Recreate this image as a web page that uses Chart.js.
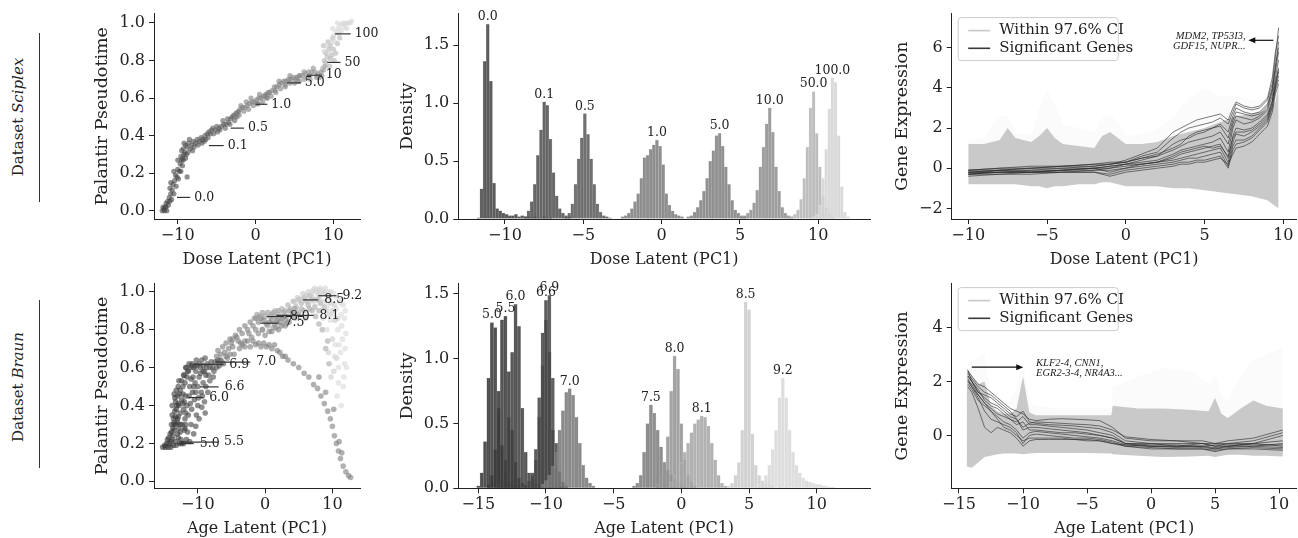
<!DOCTYPE html>
<html>
<head>
<meta charset="utf-8">
<script src="https://cdn.jsdelivr.net/npm/chart.js@4.4.1/dist/chart.umd.min.js"></script>
<style>
  body { margin: 0; background: #fff; }
  #fig { position: relative; width: 1298px; height: 538px; overflow: hidden; }
  canvas { position: absolute; }
  .rowlab { position: absolute; font-family: 'DejaVu Serif', serif; font-size: 15px; color: #222;
            transform: translate(-50%, -50%) rotate(-90deg); white-space: nowrap; }
  .rowline { position: absolute; width: 1px; background: #333; }
</style>
</head>
<body>
<div id="fig">
  <div class="rowlab" style="left:18px; top:117px">Dataset <i>Sciplex</i></div>
  <div class="rowline" style="left:39px; top:33px; height:169px"></div>
  <div class="rowlab" style="left:18px; top:387px">Dataset <i>Braun</i></div>
  <div class="rowline" style="left:39px; top:300px; height:168px"></div>

  <canvas id="scatterTop" width="305" height="269" style="left:85px; top:0px"></canvas>
  <canvas id="scatterBot" width="305" height="268" style="left:85px; top:270px"></canvas>
  <canvas id="histTop" width="485" height="269" style="left:390px; top:0px"></canvas>
  <canvas id="histBot" width="485" height="268" style="left:390px; top:270px"></canvas>
  <canvas id="geneTop" width="418" height="269" style="left:880px; top:0px"></canvas>
  <canvas id="geneBot" width="418" height="268" style="left:880px; top:270px"></canvas>
</div>

<script>
// ---------------- data: Sciplex (dose) ----------------
const doseHistLabels = ['0.0', '0.1', '0.5', '1.0', '5.0', '10.0', '50.0', '100.0'];
const doseMarkLabels = ['0.0', '0.1', '0.5', '1.0', '5.0', '10', '50', '100'];
const doseMarkFrom = [-10.1, -6.0, -3.2, 0.0, 4.0, 6.6, 9.2, 10.2];
const doseMarkTo   = [-8.4, -4.1, -1.5, 1.5, 5.8, 8.5, 10.9, 12.2];
const doseMarkY    = [0.071, 0.347, 0.44, 0.567, 0.681, 0.722, 0.79, 0.942];

// scatter points per dose group [latent PC1, pseudotime]
const sciplexPoints = [
  [[-12.0,0.0],[-11.8,0.01],[-11.6,0.02],[-11.5,0.04],[-11.3,0.05],[-11.2,0.03],[-11.1,0.07],[-10.9,0.09],[-11.0,0.12],[-10.7,0.11],[-10.6,0.14],[-10.4,0.16],[-10.3,0.19],[-10.1,0.18],[-10.0,0.22],[-9.8,0.21],[-9.7,0.25],[-9.5,0.27],[-9.4,0.24],[-9.2,0.3],[-11.4,0.0],[-10.8,0.06],[-11.7,0.0],[-8.8,0.18],
   [-11.9,0.02],[-11.5,0.02],[-11.0,0.05],[-10.5,0.09],[-10.9,0.15],[-10.2,0.13],[-10.5,0.21],[-9.9,0.17],[-9.6,0.21],[-10.0,0.27],[-9.3,0.27],[-9.0,0.28]],
  [[-9.6,0.29],[-9.3,0.33],[-9.1,0.31],[-9.0,0.35],[-8.8,0.34],[-8.6,0.36],[-8.4,0.33],[-8.2,0.35],[-8.0,0.37],[-7.7,0.36],[-7.5,0.38],[-7.2,0.37],[-7.0,0.39],[-6.8,0.38],[-6.5,0.4],[-6.2,0.41],[-9.4,0.28],[-8.9,0.3],
   [-9.2,0.36],[-8.7,0.31],[-8.1,0.32],[-7.9,0.34],[-7.4,0.35],[-6.9,0.36],[-6.6,0.37],[-6.4,0.38],[-9.5,0.32],[-8.5,0.38]],
  [[-6.0,0.42],[-5.7,0.43],[-5.5,0.44],[-5.2,0.43],[-5.0,0.45],[-4.7,0.44],[-4.4,0.45],[-4.1,0.46],[-3.8,0.46],[-3.5,0.47],[-3.2,0.49],[-3.0,0.5],[-2.8,0.51],[-2.5,0.52],[-2.2,0.53],[-5.8,0.41],[-4.9,0.42],
   [-6.1,0.39],[-5.4,0.41],[-4.6,0.43],[-3.9,0.44],[-3.3,0.46],[-2.7,0.48],[-2.4,0.5],[-4.2,0.48],[-3.6,0.49]],
  [[-2.6,0.5],[-2.3,0.52],[-2.0,0.54],[-1.7,0.55],[-1.4,0.55],[-1.1,0.56],[-0.8,0.57],[-0.5,0.58],[-0.2,0.58],[0.1,0.59],[0.4,0.6],[0.7,0.6],[1.0,0.61],[1.3,0.62],[1.6,0.63],[-1.9,0.56],[0.2,0.57],
   [-2.1,0.51],[-1.5,0.53],[-0.9,0.54],[-0.3,0.56],[0.3,0.57],[0.9,0.58],[1.5,0.6],[-1.2,0.58],[-0.6,0.6],[0.5,0.62]],
  [[1.2,0.61],[1.5,0.62],[1.8,0.63],[2.1,0.64],[2.4,0.66],[2.7,0.66],[3.0,0.67],[3.3,0.68],[3.6,0.69],[3.9,0.69],[4.2,0.7],[4.5,0.7],[4.8,0.71],[5.1,0.7],[5.4,0.71],[5.7,0.72],[3.8,0.67],[2.5,0.64],
   [1.4,0.6],[2.0,0.61],[2.6,0.63],[3.2,0.65],[3.8,0.66],[4.4,0.68],[5.0,0.68],[5.6,0.69],[3.0,0.69],[4.4,0.72]],
  [[5.2,0.71],[5.6,0.72],[6.0,0.72],[6.4,0.73],[6.8,0.74],[7.2,0.74],[7.6,0.74],[8.0,0.73],[8.4,0.74],[8.7,0.75],[7.0,0.72],[7.9,0.72],[8.5,0.72],[8.9,0.77],[6.6,0.71],
   [5.4,0.69],[6.2,0.7],[7.0,0.7],[7.8,0.71],[8.2,0.71],[6.2,0.74],[7.4,0.76]],
  [[8.6,0.76],[8.8,0.8],[9.0,0.79],[9.2,0.82],[9.0,0.84],[9.4,0.86],[9.6,0.88],[9.3,0.9],[9.8,0.83],[10.0,0.86],[10.3,0.84],[10.1,0.8],[9.6,0.81],[10.5,0.89],[9.9,0.92],[8.7,0.88],[10.8,0.92],[9.5,0.77]],
  [[9.4,0.84],[9.7,0.9],[10.0,0.93],[10.3,0.95],[10.6,0.97],[10.9,0.99],[11.2,1.0],[11.5,1.0],[11.8,1.0],[12.1,1.0],[10.7,0.94],[11.0,0.96],[11.4,0.98],[9.9,0.97],[10.2,0.9],[11.7,0.97],[12.3,1.01],[10.5,1.0],[9.1,0.88],[8.8,0.85]]
];

// histogram: first bin centre and bin heights (bin width 0.2)
const doseBinStart = [-11.7, -8.7, -6.1, -2.5, 1.7, 5.1, 8.1, 9.7];
const doseBinHeights = [
  [0.01,0.26,1.36,1.68,1.19,0.31,0.09,0.07,0.05,0.04,0.03,0.03,0.04,0.02,0.03,0.02,0.02,0.01,0.02,0.01,0.01,0.02,0.01,0.01],
  [0.02,0.07,0.15,0.3,0.55,0.77,1.01,0.98,0.69,0.4,0.2,0.09,0.05,0.03,0.02],
  [0.02,0.05,0.13,0.3,0.52,0.7,0.91,0.73,0.52,0.3,0.13,0.06,0.03,0.02,0.01],
  [0.02,0.03,0.05,0.09,0.15,0.22,0.35,0.53,0.55,0.6,0.64,0.68,0.63,0.47,0.22,0.12,0.07,0.04,0.03,0.02],
  [0.02,0.03,0.06,0.1,0.16,0.24,0.35,0.5,0.59,0.72,0.74,0.63,0.45,0.3,0.16,0.08,0.05,0.03,0.02],
  [0.02,0.03,0.05,0.08,0.14,0.25,0.45,0.62,0.82,0.96,0.75,0.45,0.24,0.1,0.05,0.03,0.02],
  [0.01,0.02,0.04,0.08,0.17,0.35,0.62,0.96,1.1,0.74,0.45,0.2,0.1,0.05,0.02],
  [0.02,0.04,0.12,0.35,0.6,0.95,1.22,1.18,0.72,0.28,0.06,0.02]
];
const doseShades = [68, 80, 90, 125, 128, 142, 180, 212];

// ---------------- data: Braun (age) ----------------
const ageHistLabels = ['5.0', '5.5', '6.0', '6.6', '6.9', '7.0', '7.5', '8.0', '8.1', '8.5', '9.2'];
const ageMarkFrom = [-12.9, -12.5, -11.4, -9.7, -10.6, -7.4, -0.7, 0.25, 1.7, 5.6, 7.9];
const ageMarkTo   = [-10.6, -7.0, -9.2, -6.9, -6.2, -2.2, 2.0, 2.8, 7.2, 7.9, 10.6];
const ageMarkY    = [0.199, 0.207, 0.442, 0.498, 0.617, 0.629, 0.834, 0.869, 0.875, 0.957, 0.979];

const braunPoints = [
  [[-15.2,0.18],[-14.8,0.18],[-14.4,0.18],[-14.0,0.18],[-13.6,0.19],[-14.5,0.22],[-14.1,0.25],[-13.8,0.22],[-13.5,0.27],[-13.9,0.3],[-13.3,0.21],[-13.6,0.33],[-13.2,0.3],[-13.0,0.25],[-13.4,0.37],[-12.9,0.34],[-12.7,0.2],[-13.1,0.4],[-14.2,0.2],[-12.8,0.28],
   [-14.9,0.19],[-14.6,0.2],[-14.3,0.23],[-13.9,0.26],[-13.7,0.28],[-13.5,0.31],[-13.3,0.34],[-13.8,0.35],[-13.2,0.38],[-12.9,0.41],[-13.4,0.44],[-13.0,0.31],[-12.6,0.3],[-12.4,0.2]],
  [[-14.0,0.21],[-13.7,0.24],[-13.2,0.19],[-12.9,0.23],[-12.6,0.26],[-13.5,0.3],[-13.0,0.33],[-12.6,0.36],[-12.3,0.3],[-12.8,0.4],[-12.4,0.43],[-13.3,0.42],[-12.1,0.38],[-12.5,0.22],[-12.0,0.27],[-11.9,0.33],[-12.2,0.46],[-13.0,0.45],
   [-13.8,0.4],[-13.5,0.46],[-13.2,0.48],[-12.9,0.5],[-12.7,0.46],[-12.2,0.41],[-11.8,0.36],[-11.7,0.22],[-12.1,0.2],[-11.9,0.28]],
  [[-12.6,0.48],[-12.2,0.5],[-11.8,0.45],[-11.6,0.4],[-11.4,0.35],[-11.8,0.3],[-11.5,0.26],[-12.0,0.42],[-11.3,0.45],[-11.9,0.52],[-11.1,0.41],[-11.6,0.55],[-11.2,0.5],[-10.8,0.47],[-10.9,0.38],[-11.0,0.3],[-10.5,0.43],[-10.2,0.35],[-10.6,0.25],
   [-12.4,0.53],[-12.8,0.53],[-12.1,0.56],[-11.7,0.6],[-11.4,0.58],[-11.0,0.54],[-10.6,0.5],[-10.3,0.47],[-10.0,0.4],[-9.8,0.33],[-10.3,0.29],[-11.2,0.21]],
  [[-12.0,0.56],[-11.5,0.58],[-11.0,0.6],[-10.7,0.55],[-10.4,0.52],[-10.0,0.5],[-10.3,0.58],[-9.8,0.55],[-9.5,0.47],[-9.9,0.44],[-9.2,0.52],[-9.6,0.6],[-10.8,0.62],[-9.0,0.42],[-8.8,0.5],[-9.4,0.39],
   [-11.8,0.6],[-11.3,0.62],[-10.6,0.6],[-10.1,0.61],[-9.6,0.57],[-9.2,0.58],[-8.8,0.56],[-8.5,0.47],[-8.9,0.36],[-9.3,0.45]],
  [[-11.0,0.61],[-10.4,0.61],[-9.8,0.62],[-9.2,0.61],[-8.6,0.62],[-8.0,0.63],[-9.0,0.58],[-8.4,0.56],[-8.7,0.6],[-7.8,0.6],[-7.4,0.63],[-7.0,0.64],[-7.6,0.58],[-8.2,0.53],[-6.8,0.61],
   [-10.2,0.64],[-9.4,0.64],[-8.9,0.65],[-8.2,0.6],[-7.7,0.55],[-7.2,0.6],[-6.6,0.64],[-6.2,0.62]],
  [[-7.2,0.66],[-6.6,0.67],[-6.0,0.68],[-5.4,0.7],[-4.8,0.71],[-6.4,0.63],[-5.6,0.65],[-4.6,0.67],[-3.8,0.7],[-3.0,0.71],[-2.2,0.71],[-1.4,0.72],[-0.6,0.71],[0.2,0.71],[1.0,0.7],[1.8,0.69],[2.6,0.66],[3.4,0.64],[4.2,0.62],[-4.0,0.74],[-5.0,0.73],
   [-7.0,0.69],[-6.3,0.71],[-5.8,0.73],[-5.2,0.75],[-4.4,0.77],[-3.4,0.72],[-2.6,0.74],[-1.8,0.74],[-1.0,0.73],[-0.2,0.73],[0.6,0.72],[1.4,0.72],[-6.8,0.62],[-5.8,0.66],[-5.2,0.67],[2.2,0.68],[3.0,0.66]],
  [[-4.2,0.76],[-3.4,0.78],[-2.6,0.8],[-1.8,0.82],[-1.0,0.84],[-0.2,0.85],[0.6,0.84],[1.4,0.83],[2.2,0.84],[-3.0,0.74],[-2.0,0.76],[-1.0,0.78],[0.0,0.77],[1.0,0.79],[2.0,0.8],[-4.8,0.75],[-3.6,0.73],[3.0,0.82],
   [-3.8,0.8],[-3.0,0.82],[-2.2,0.84],[-1.4,0.86],[-0.6,0.86],[0.2,0.83],[1.0,0.85],[1.8,0.85],[2.6,0.86],[-2.4,0.78],[-1.4,0.8],[-0.4,0.8],[0.6,0.79],[1.6,0.81],[2.4,0.82],[3.4,0.84],
   [5.0,0.6],[5.8,0.57],[6.5,0.55],[7.2,0.51],[7.8,0.49],[8.3,0.45],[8.8,0.41],[9.3,0.37],[9.7,0.33],[10.0,0.29],[10.3,0.24],[10.6,0.2],[10.9,0.16],[11.2,0.12],[11.6,0.08],[12.0,0.05],[12.4,0.03],[12.7,0.02],[9.0,0.47],[8.0,0.55],[10.2,0.38],[11.0,0.21],[11.4,0.15]],
  [[-1.6,0.86],[-0.8,0.87],[0.0,0.87],[0.8,0.87],[1.6,0.87],[2.4,0.86],[3.2,0.87],[4.0,0.89],[0.4,0.82],[1.2,0.81],[2.8,0.83],[3.6,0.84],[4.4,0.86],[-0.4,0.8],
   [-1.2,0.88],[-0.4,0.89],[0.4,0.89],[1.2,0.89],[2.0,0.9],[2.8,0.89],[3.6,0.9],[4.4,0.91],[1.8,0.84],[3.0,0.85],[4.8,0.88]],
  [[1.0,0.88],[2.0,0.88],[3.0,0.9],[3.8,0.91],[4.6,0.92],[5.4,0.94],[6.2,0.95],[7.0,0.96],[4.2,0.88],[5.0,0.89],[5.8,0.9],[6.6,0.91],[7.4,0.92],[8.2,0.94],[6.0,0.86],[7.5,0.87],[8.5,0.8],[9.0,0.7],[9.5,0.62],
   [1.5,0.9],[2.5,0.91],[3.4,0.93],[4.2,0.95],[5.0,0.96],[5.8,0.97],[6.6,0.98],[7.8,0.96],[5.4,0.91],[6.4,0.93],[7.0,0.9],[8.0,0.9],[8.8,0.92],[8.0,0.83],[9.3,0.74]],
  [[4.5,0.94],[5.3,0.96],[6.1,0.98],[6.9,0.99],[7.7,1.0],[8.5,0.99],[9.3,0.98],[6.5,0.94],[7.3,0.95],[8.1,0.96],[8.9,0.95],[9.7,0.94],[10.3,0.93],[8.3,0.9],[9.6,0.88],[10.4,0.85],[10.0,0.75],[9.8,0.55],[10.6,0.65],
   [4.8,0.97],[5.6,0.99],[6.4,1.0],[7.2,1.01],[8.0,1.01],[8.8,1.0],[9.6,0.97],[7.0,0.97],[7.9,0.98],[9.1,0.9],[10.0,0.9],[10.8,0.86],[9.4,0.68],[10.2,0.58]],
  [[7.0,1.0],[7.8,1.01],[8.6,1.01],[9.4,1.0],[10.2,0.99],[11.0,0.96],[11.6,0.93],[10.6,0.91],[11.3,0.88],[11.8,0.86],[9.2,0.92],[10.0,0.88],[10.8,0.8],[11.5,0.75],[11.2,0.68],[10.9,0.6],[11.8,0.62],[10.4,0.72],[11.6,0.5],[10.7,0.45],[9.2,0.8],[8.6,0.86],[11.9,0.7],
   [7.4,1.02],[8.2,1.02],[9.0,1.02],[9.8,1.0],[10.6,0.97],[11.2,0.94],[11.9,0.9],[11.4,0.82],[12.0,0.78],[11.0,0.72],[10.3,0.66],[11.7,0.55],[11.3,0.4],[10.9,0.52],[12.1,0.6],[9.7,0.85]]
];

// histogram: first bin centre and bin heights (bin width 0.25)
const ageBinStart = [-15.0, -14.25, -13.5, -11.5, -11.25, -10.25, -3.5, -1.75, -0.75, 3.5, 5.5];
const ageBinHeights = [
  [0.02,0.12,0.36,0.85,1.28,1.24,0.75,0.33,0.12,0.05,0.03,0.02,0.01],
  [0.03,0.1,0.3,0.62,1.3,1.33,0.9,0.45,0.2,0.08,0.04,0.02],
  [0.03,0.08,0.22,0.55,1.05,1.42,1.25,0.62,0.28,0.12,0.08,0.05,0.03],
  [0.03,0.06,0.12,0.3,0.7,1.2,1.45,1.05,0.45,0.15,0.05,0.02],
  [0.04,0.1,0.22,0.55,0.95,1.3,1.49,0.85,0.35,0.13,0.05,0.02],
  [0.03,0.06,0.1,0.17,0.28,0.45,0.6,0.74,0.77,0.72,0.55,0.35,0.18,0.08,0.04,0.02],
  [0.02,0.04,0.1,0.28,0.5,0.645,0.58,0.45,0.32,0.2,0.14,0.1,0.07,0.05,0.03,0.02],
  [0.03,0.08,0.2,0.4,0.75,1.02,0.92,0.5,0.22,0.1,0.05,0.02],
  [0.05,0.1,0.15,0.2,0.28,0.35,0.43,0.5,0.53,0.56,0.55,0.48,0.35,0.22,0.1,0.04,0.02],
  [0.02,0.04,0.1,0.2,0.45,1.44,1.38,0.42,0.18,0.1,0.06,0.04,0.03,0.02],
  [0.02,0.03,0.05,0.1,0.18,0.3,0.45,0.7,0.85,0.7,0.45,0.28,0.18,0.12,0.08,0.06,0.05,0.04,0.03,0.03,0.02,0.02,0.01,0.01]
];
const ageShades = [55, 58, 64, 68, 72, 120, 125, 148, 166, 202, 216];

// ---------------- data: gene expression ----------------
const legendLabels = ['Within 97.6% CI', 'Significant Genes'];

const bandX1 = [-10,-9,-8,-7.5,-7,-6,-5.5,-5,-4.5,-4,-3,-2,-1.5,-1,-0.5,0,1,2,3,4,5,6,7,8,9,9.5,9.7];
const bandUp1 = [1.2,1.2,1.4,2.0,1.5,1.3,1.6,2.0,1.5,1.2,1.1,1.0,1.6,1.8,1.5,1.2,1.2,1.3,1.6,1.8,2.0,2.3,2.6,2.7,2.9,3.3,4.2];
const bandLo1 = [-0.8,-0.8,-0.8,-0.8,-0.8,-0.9,-0.9,-1.0,-0.9,-0.9,-0.8,-0.8,-0.7,-0.7,-0.8,-0.9,-0.9,-0.9,-1.0,-1.0,-1.1,-1.2,-1.3,-1.4,-1.6,-1.9,-2.0];
const bandFaint1 = [1.4,1.5,2.6,2.6,1.8,1.6,3.0,3.9,3.2,2.2,2.0,1.8,2.5,2.7,2.2,1.6,1.7,1.9,2.5,3.5,4.0,3.6,3.6,3.4,3.4,4.0,4.8];

const geneX1 = [-10,-8,-6,-4,-2,-1,0,1,2,3,3.5,4,4.5,5,5.5,6,6.5,6.8,7,7.5,8,8.5,9,9.3,9.5,9.7];
const genesDose = [
  [-0.2,-0.1,-0.1,0.0,0.1,0.2,0.3,0.6,0.8,1.5,1.8,2.0,2.1,2.2,2.3,2.5,2.2,2.8,3.2,3.0,2.9,3.0,3.4,4.2,5.5,7.0],
  [-0.3,-0.2,-0.2,-0.1,0.0,0.1,0.2,0.4,0.6,1.2,1.4,1.5,1.7,1.8,2.0,2.2,1.8,2.6,3.0,2.8,2.7,2.8,3.2,4.0,5.0,6.3],
  [-0.1,0.0,0.0,0.1,0.2,0.2,0.3,0.5,0.6,0.9,1.1,1.3,1.4,1.5,1.6,1.8,1.2,2.2,2.6,2.5,2.4,2.6,3.0,3.8,4.8,5.8],
  [-0.2,-0.2,-0.1,-0.1,0.0,0.0,0.2,0.3,0.4,0.7,0.9,1.0,1.1,1.2,1.3,1.5,0.8,2.0,2.4,2.2,2.3,2.5,2.9,3.6,4.5,5.4],
  [-0.3,-0.3,-0.2,-0.2,-0.1,0.0,0.1,0.2,0.3,0.5,0.7,0.8,0.9,1.0,1.1,1.2,0.5,1.6,2.0,1.9,2.0,2.3,2.7,3.4,4.3,5.0],
  [-0.1,-0.1,0.0,0.0,0.0,0.1,0.2,0.2,0.3,0.4,0.5,0.6,0.7,0.8,0.9,1.0,0.3,1.3,1.7,1.6,1.8,2.1,2.5,3.3,4.1,4.8],
  [-0.2,-0.2,-0.2,-0.1,-0.1,-0.1,0.0,0.1,0.2,0.3,0.4,0.5,0.5,0.6,0.7,0.8,0.1,1.1,1.4,1.4,1.6,2.0,2.4,3.1,4.0,4.6],
  [-0.3,-0.2,-0.2,-0.2,-0.2,-0.3,-0.1,0.0,0.1,0.2,0.3,0.3,0.4,0.4,0.5,0.6,0.0,0.9,1.2,1.3,1.5,1.9,2.3,3.0,3.9,4.4],
  [-0.2,-0.1,0.0,0.1,0.1,0.2,0.4,0.7,1.0,1.8,2.0,2.2,2.4,2.5,2.6,2.7,2.4,3.0,3.3,3.1,3.0,3.1,3.5,4.5,5.8,6.6],
  [-0.4,-0.3,-0.3,-0.2,-0.2,-0.4,-0.2,-0.1,0.0,0.1,0.2,0.2,0.3,0.3,0.4,0.5,0.2,0.7,1.0,1.1,1.3,1.7,2.1,2.8,3.7,4.2],
  [-0.1,0.0,0.1,0.1,0.2,0.3,0.3,0.5,0.7,1.0,1.2,1.6,1.8,1.9,2.0,2.1,1.5,2.4,2.8,2.7,2.6,2.7,3.1,3.9,5.1,6.0],
  [-0.3,-0.1,-0.2,-0.1,0.0,-0.2,0.0,0.2,0.3,0.6,0.8,0.9,1.0,1.1,1.0,1.1,0.6,1.5,1.8,1.8,1.9,2.2,2.6,3.3,4.2,4.9]
];
const doseArrow = [9.37, 6.37, 7.78, 6.37];
const doseGeneText = ['MDM2, TP53I3,', 'GDF15, NUPR...'];
const doseGeneTextPos = [7.6, 6.58, 6.05];

const bandX2 = [-14.4,-14,-13.5,-13,-12.5,-12,-11.5,-11,-10.5,-10,-9.5,-9,-7,-5,-3.1,-3,-1,1,3,4.5,5,5.5,6,7,8,9,10.3];
const bandUp2 = [2.5,2.2,1.9,2.0,1.1,0.9,0.8,0.8,1.0,2.2,0.85,0.75,0.75,0.75,0.75,1.1,1.0,1.0,0.95,0.9,1.4,0.8,0.65,1.0,1.3,1.1,1.0];
const bandLo2 = [-1.15,-1.2,-1.0,-0.8,-0.75,-0.7,-0.67,-0.67,-0.67,-0.7,-0.67,-0.65,-0.65,-0.65,-0.67,-0.7,-0.75,-0.8,-0.78,-0.75,-0.8,-0.75,-0.72,-0.72,-0.75,-0.75,-0.78];
const bandFaint2 = [2.6,2.8,2.9,3.0,1.5,1.3,1.2,1.3,1.8,2.7,1.3,1.1,1.0,1.0,1.0,1.8,2.2,2.5,2.4,1.9,2.3,1.5,1.3,2.2,2.8,3.0,3.3];

const geneX2 = [-14.3,-14,-13.5,-13,-12.5,-12,-11.5,-11,-10.5,-10,-9.5,-9,-8,-7,-6,-5,-4,-3,-2,0,2,4,5,6,8,10.3];
const genesAge = [
  [2.4,2.2,1.9,1.8,1.6,1.4,1.2,1.0,0.9,0.8,0.6,0.55,0.6,0.62,0.6,0.58,0.55,0.3,-0.1,-0.2,-0.2,-0.3,-0.3,-0.3,-0.2,0.1],
  [2.2,2.0,1.6,1.5,1.4,1.2,1.0,0.8,0.7,0.9,0.5,0.45,0.4,0.38,0.35,0.3,0.25,0.1,-0.2,-0.3,-0.3,-0.3,-0.4,-0.3,-0.3,0.0],
  [2.0,1.9,1.5,1.2,1.0,0.8,0.7,0.6,0.5,0.7,0.4,0.4,0.35,0.3,0.25,0.2,0.1,0.0,-0.3,-0.3,-0.4,-0.3,-0.4,-0.4,-0.3,-0.2],
  [2.3,2.1,1.8,1.6,1.5,1.3,1.1,0.9,0.6,0.2,0.3,0.3,0.25,0.2,0.15,0.1,0.0,-0.1,-0.3,-0.4,-0.4,-0.4,-0.5,-0.4,-0.4,-0.3],
  [1.9,1.7,1.3,1.1,0.9,0.7,0.5,0.4,0.2,-0.1,0.1,0.15,0.1,0.05,0.0,-0.05,-0.1,-0.2,-0.35,-0.4,-0.4,-0.45,-0.5,-0.45,-0.4,-0.45],
  [2.1,1.8,1.4,0.9,0.6,0.5,0.4,0.3,0.1,-0.3,0.0,0.05,0.0,-0.05,-0.1,-0.1,-0.15,-0.25,-0.4,-0.45,-0.5,-0.5,-0.6,-0.5,-0.45,-0.5],
  [2.4,2.0,1.7,1.3,1.1,1.0,0.8,0.6,0.4,0.5,0.2,0.2,0.15,0.1,0.1,0.05,0.0,-0.1,-0.3,-0.35,-0.35,-0.4,-0.35,-0.35,-0.35,-0.35],
  [1.8,1.6,1.0,0.3,0.1,0.3,0.2,0.1,-0.1,-0.4,-0.2,-0.15,-0.15,-0.15,-0.15,-0.2,-0.2,-0.3,-0.4,-0.5,-0.5,-0.5,-0.55,-0.5,-0.5,-0.55],
  [2.2,2.0,1.6,1.4,1.2,1.1,0.9,0.7,0.6,0.3,0.45,0.5,0.48,0.45,0.42,0.4,0.35,0.2,-0.05,-0.15,-0.2,-0.2,-0.3,-0.2,-0.1,0.2],
  [2.0,1.8,1.5,1.2,0.9,0.6,0.3,0.2,0.0,-0.2,-0.1,-0.1,-0.1,-0.1,-0.15,-0.15,-0.2,-0.3,-0.35,-0.4,-0.45,-0.4,-0.45,-0.4,-0.3,-0.4]
];
const ageArrow = [-14.0, 2.53, -9.98, 2.53];
const ageGeneText = ['KLF2-4, CNN1,', 'EGR2-3-4, NR4A3...'];
const ageGeneTextPos = [-8.98, 2.69, 2.29];

// ---------------- helpers ----------------
Chart.defaults.font.family = "'DejaVu Serif', serif";
Chart.defaults.font.size = 16;
Chart.defaults.color = '#222';
Chart.defaults.animation = false;
Chart.defaults.plugins.legend.display = false;
Chart.defaults.plugins.tooltip.enabled = false;

const gray = (c, a) => `rgba(${c},${c},${c},${a})`;
const fmt = dec => v => Number(v).toFixed(dec).replace('-', '\u2212');
const toXY = (xs, ys) => xs.map((x, i) => ({ x: x, y: ys[i] }));

function axes(o) {
  return {
    x: {
      type: 'linear', min: o.xMin, max: o.xMax, offset: false,
      afterBuildTicks: s => { s.ticks = o.xTicks.map(v => ({ value: v })); },
      afterFit: s => { s.height = o.xH; },
      ticks: { callback: fmt(o.xDec), padding: 2, maxRotation: 0, autoSkip: false },
      grid: { drawOnChartArea: false, offset: false, tickLength: 5, color: '#222', tickColor: '#222' },
      border: { color: '#222', width: 1 },
      title: { display: true, text: o.xTitle, padding: { top: 0, bottom: 0 } }
    },
    y: {
      type: 'linear', min: o.yMin, max: o.yMax,
      afterBuildTicks: s => { s.ticks = o.yTicks.map(v => ({ value: v })); },
      afterFit: s => { s.width = o.yW; },
      ticks: { callback: fmt(o.yDec), padding: 4, autoSkip: false },
      grid: { drawOnChartArea: false, tickLength: 5, color: '#222', tickColor: '#222' },
      border: { color: '#222', width: 1 },
      title: { display: true, text: o.yTitle, font: { size: 17.5 }, padding: { top: o.yPad, bottom: 0 } }
    }
  };
}

function markPlugin(labels, from, to, ys, gap) {
  return {
    id: 'marks',
    afterDatasetsDraw(chart) {
      const { ctx, scales: { x, y } } = chart;
      ctx.save();
      ctx.strokeStyle = '#333'; ctx.lineWidth = 1.2;
      ctx.fillStyle = '#222'; ctx.font = "12.5px 'DejaVu Serif'"; ctx.textBaseline = 'middle';
      labels.forEach((t, i) => {
        const py = y.getPixelForValue(ys[i]);
        const x1 = x.getPixelForValue(to[i]);
        ctx.beginPath(); ctx.moveTo(x.getPixelForValue(from[i]), py); ctx.lineTo(x1, py); ctx.stroke();
        ctx.fillText(t, x1 + gap, py);
      });
      ctx.restore();
    }
  };
}

function peakPlugin(labels) {
  return {
    id: 'peaks',
    afterDatasetsDraw(chart) {
      const { ctx, scales: { x, y } } = chart;
      ctx.save();
      ctx.fillStyle = '#222'; ctx.font = "12.5px 'DejaVu Serif'";
      ctx.textAlign = 'center'; ctx.textBaseline = 'bottom';
      chart.data.datasets.forEach((ds, i) => {
        let best = ds.data[0];
        ds.data.forEach(p => { if (p.y > best.y) best = p; });
        ctx.fillText(labels[i], x.getPixelForValue(best.x), y.getPixelForValue(best.y) - 1);
      });
      ctx.restore();
    }
  };
}

function legendPlugin() {
  return {
    id: 'ciLegend',
    afterDraw(chart) {
      const { ctx, chartArea: a } = chart;
      const bx = a.left + 6.5, by = a.top + 4, bw = 160, bh = 43;
      ctx.save();
      ctx.fillStyle = 'rgba(255,255,255,0.8)'; ctx.strokeStyle = '#cccccc'; ctx.lineWidth = 1;
      ctx.beginPath();
      if (ctx.roundRect) ctx.roundRect(bx, by, bw, bh, 3); else ctx.rect(bx, by, bw, bh);
      ctx.fill(); ctx.stroke();
      const cols = ['#c8c8c8', '#3a3a3a'];
      legendLabels.forEach((t, i) => {
        const yy = by + 13 + i * 17.7;
        ctx.strokeStyle = cols[i]; ctx.lineWidth = 1.6;
        ctx.beginPath(); ctx.moveTo(bx + 10, yy); ctx.lineTo(bx + 32, yy); ctx.stroke();
        ctx.fillStyle = '#222'; ctx.font = "15px 'DejaVu Serif'"; ctx.textBaseline = 'middle';
        ctx.fillText(t, bx + 41, yy);
      });
      ctx.restore();
    }
  };
}

function arrowPlugin(arrow, text, pos, align) {
  return {
    id: 'geneArrow',
    afterDatasetsDraw(chart) {
      const { ctx, scales: { x, y } } = chart;
      const x0 = x.getPixelForValue(arrow[0]), y0 = y.getPixelForValue(arrow[1]);
      const x1 = x.getPixelForValue(arrow[2]), y1 = y.getPixelForValue(arrow[3]);
      const dir = Math.sign(x1 - x0);
      ctx.save();
      ctx.strokeStyle = '#111'; ctx.fillStyle = '#111'; ctx.lineWidth = 1.2;
      ctx.beginPath(); ctx.moveTo(x0, y0); ctx.lineTo(x1 - dir * 5, y1); ctx.stroke();
      ctx.beginPath(); ctx.moveTo(x1, y1); ctx.lineTo(x1 - dir * 7, y1 - 3); ctx.lineTo(x1 - dir * 7, y1 + 3); ctx.closePath(); ctx.fill();
      ctx.fillStyle = '#222'; ctx.font = "italic 10.5px 'Liberation Serif'";
      ctx.textAlign = align; ctx.textBaseline = 'middle';
      text.forEach((t, i) => ctx.fillText(t, x.getPixelForValue(pos[0]), y.getPixelForValue(pos[1 + i])));
      ctx.restore();
    }
  };
}

function scatterSets(groups, shades, r) {
  return groups.map((pts, g) => ({
    data: pts.map(p => ({ x: p[0], y: p[1] })),
    backgroundColor: gray(shades[g], 0.6),
    borderWidth: 0, pointRadius: r,
    order: groups.length - g
  }));
}

function histSets(starts, heights, width, shades, thick) {
  return heights.map((h, g) => ({
    data: h.map((v, i) => ({ x: Math.round((starts[g] + i * width) * 100) / 100, y: v })),
    backgroundColor: gray(shades[g], 0.85),
    borderColor: gray(Math.min(shades[g] + 40, 235), 0.5),
    borderWidth: 0.5,
    grouped: false, barThickness: thick,
    order: heights.length - g
  }));
}

function geneSets(bx, up, lo, faint, gx, genes) {
  const sets = [
    { data: toXY(bx, up), fill: 1, backgroundColor: '#c9c9c9', borderWidth: 0, pointRadius: 0, order: 100 },
    { data: toXY(bx, lo), fill: false, borderWidth: 0, pointRadius: 0, order: 99 },
    { data: toXY(bx, faint), fill: 0, backgroundColor: 'rgba(215,215,215,0.1)', borderWidth: 0, pointRadius: 0, order: 101 }
  ];
  genes.forEach(g => sets.push({
    data: toXY(gx, g), fill: false, borderColor: 'rgba(45,45,45,0.8)', borderWidth: 0.8,
    pointRadius: 0, tension: 0, order: 1
  }));
  return sets;
}

// ---------------- charts ----------------
new Chart(document.getElementById('scatterTop'), {
  type: 'scatter',
  data: { datasets: scatterSets(sciplexPoints, doseShades, 2.6) },
  options: {
    responsive: false,
    layout: { padding: { top: 12, right: 30, left: 0, bottom: 0 } },
    scales: axes({ xMin: -13.05, xMax: 13.4, xTicks: [-10, 0, 10], xDec: 0, xH: 50, xTitle: 'Dose Latent (PC1)',
                   yMin: -0.044, yMax: 1.05, yTicks: [0, 0.2, 0.4, 0.6, 0.8, 1.0], yDec: 1, yW: 69, yPad: 7, yTitle: 'Palantir Pseudotime' })
  },
  plugins: [markPlugin(doseMarkLabels, doseMarkFrom, doseMarkTo, doseMarkY, 4)]
});

new Chart(document.getElementById('scatterBot'), {
  type: 'scatter',
  data: { datasets: scatterSets(braunPoints, ageShades, 2.8) },
  options: {
    responsive: false,
    layout: { padding: { top: 11.7, right: 30, left: 0, bottom: 0 } },
    scales: axes({ xMin: -16.5, xMax: 14.1, xTicks: [-10, 0, 10], xDec: 0, xH: 49.7, xTitle: 'Age Latent (PC1)',
                   yMin: -0.037, yMax: 1.043, yTicks: [0, 0.2, 0.4, 0.6, 0.8, 1.0], yDec: 1, yW: 69, yPad: 7, yTitle: 'Palantir Pseudotime' })
  },
  plugins: [markPlugin(ageHistLabels, ageMarkFrom, ageMarkTo, ageMarkY, 6)]
});

new Chart(document.getElementById('histTop'), {
  type: 'bar',
  data: { datasets: histSets(doseBinStart, doseBinHeights, 0.2, doseShades, 3.13) },
  options: {
    responsive: false,
    layout: { padding: { top: 12.7, right: 5, left: 0, bottom: 0 } },
    scales: axes({ xMin: -12.98, xMax: 13.3, xTicks: [-10, -5, 0, 5, 10], xDec: 0, xH: 50, xTitle: 'Dose Latent (PC1)',
                   yMin: 0, yMax: 1.772, yTicks: [0, 0.5, 1.0, 1.5], yDec: 1, yW: 68.3, yPad: 7, yTitle: 'Density' })
  },
  plugins: [peakPlugin(doseHistLabels)]
});

new Chart(document.getElementById('histBot'), {
  type: 'bar',
  data: { datasets: histSets(ageBinStart, ageBinHeights, 0.25, ageShades, 3.38) },
  options: {
    responsive: false,
    layout: { padding: { top: 11.7, right: 5, left: 0, bottom: 0 } },
    scales: axes({ xMin: -16.48, xMax: 13.94, xTicks: [-15, -10, -5, 0, 5, 10], xDec: 0, xH: 49.7, xTitle: 'Age Latent (PC1)',
                   yMin: 0, yMax: 1.58, yTicks: [0, 0.5, 1.0, 1.5], yDec: 1, yW: 68.3, yPad: 7, yTitle: 'Density' })
  },
  plugins: [peakPlugin(ageHistLabels)]
});

new Chart(document.getElementById('geneTop'), {
  type: 'line',
  data: { datasets: geneSets(bandX1, bandUp1, bandLo1, bandFaint1, geneX1, genesDose) },
  options: {
    responsive: false,
    layout: { padding: { top: 12.3, right: 1.3, left: 0, bottom: 0 } },
    scales: axes({ xMin: -11.05, xMax: 10.85, xTicks: [-10, -5, 0, 5, 10], xDec: 0, xH: 50, xTitle: 'Dose Latent (PC1)',
                   yMin: -2.53, yMax: 7.7, yTicks: [-2, 0, 2, 4, 6], yDec: 0, yW: 71.7, yPad: 12, yTitle: 'Gene Expression' })
  },
  plugins: [arrowPlugin(doseArrow, doseGeneText, doseGeneTextPos, 'right'), legendPlugin()]
});

new Chart(document.getElementById('geneBot'), {
  type: 'line',
  data: { datasets: geneSets(bandX2, bandUp2, bandLo2, bandFaint2, geneX2, genesAge) },
  options: {
    responsive: false,
    layout: { padding: { top: 11.7, right: 1.3, left: 0, bottom: 0 } },
    scales: axes({ xMin: -15.57, xMax: 11.38, xTicks: [-15, -10, -5, 0, 5, 10], xDec: 0, xH: 49.7, xTitle: 'Age Latent (PC1)',
                   yMin: -1.96, yMax: 5.63, yTicks: [0, 2, 4], yDec: 0, yW: 71.7, yPad: 12, yTitle: 'Gene Expression' })
  },
  plugins: [arrowPlugin(ageArrow, ageGeneText, ageGeneTextPos, 'left'), legendPlugin()]
});
</script>
</body>
</html>
